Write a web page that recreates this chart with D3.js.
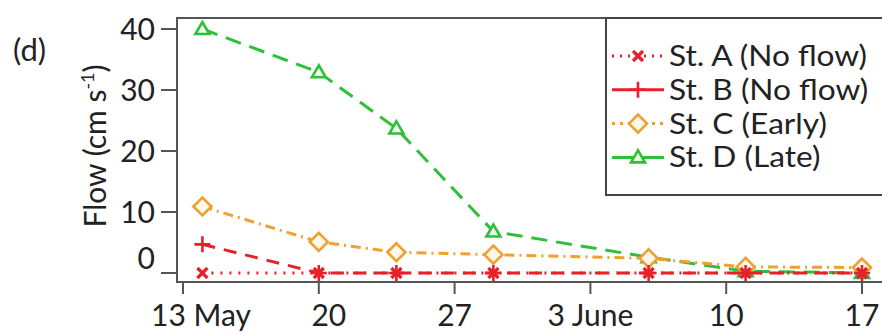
<!DOCTYPE html>
<html><head><meta charset="utf-8">
<script src="https://cdn.jsdelivr.net/npm/d3@7"></script>
<style>body{margin:0;background:#fff}svg{display:block}text{font-family:Lato,"Open Sans",sans-serif;fill:#222}</style>
</head><body><svg id="c" width="882" height="335"></svg>
<script>
const dates = ["2015-05-14","2015-05-20","2015-05-24","2015-05-29","2015-06-06","2015-06-11","2015-06-17"];
const stA = [0,0,0,0,0,0,0];
const stB = [4.7,0,0,0,0,0,0];
const stC = [10.9,5.1,3.4,3.0,2.4,1.0,0.9];
const stD = [40,32.9,23.7,6.8,2.6,0.3,0];
const seriesNames = ["St. A (No flow)","St. B (No flow)","St. C (Early)","St. D (Late)"];
const xTickDates = ["2015-05-13","2015-05-20","2015-05-27","2015-06-03","2015-06-10","2015-06-17"];
const xTickLabels = ["13 May","20","27","3 June","10","17"];
const yTicks = [0,10,20,30,40];

const parse = d3.timeParse("%Y-%m-%d");
const svg = d3.select("#c");
const x = d3.scaleTime().domain([parse("2015-05-13"), parse("2015-06-17")]).range([183, 862]);
const y = d3.scaleLinear().domain([0, 40]).range([273, 29]);

const styles = [
  {vals: stA, color:"#e8202a", dash:"2,7", legDash:"2,6", marker:"x"},
  {vals: stB, color:"#e8202a", dash:"13,9", legDash:null, marker:"plus"},
  {vals: stC, color:"#f0a030", dash:"10,5,2,5", legDash:"3,5", marker:"diamond"},
  {vals: stD, color:"#2fbf3a", dash:"16,9", legDash:null, marker:"triangle"}
];

function drawMarker(g, type, color){
  if(type==="x"){
    g.append("path").attr("d","M-5,-5L5,5M-5,5L5,-5").attr("stroke",color).attr("stroke-width",3.2).attr("fill","none");
  } else if(type==="plus"){
    g.append("path").attr("d","M-8,0L8,0M0,-8L0,8").attr("stroke",color).attr("stroke-width",2.6).attr("fill","none");
  } else if(type==="diamond"){
    g.append("path").attr("d","M-9,0L0,-9L9,0L0,9Z").attr("stroke",color).attr("stroke-width",2.6).attr("fill","#fff8ea");
  } else {
    g.append("path").attr("d","M-7,5L0,-7L7,5Z").attr("stroke",color).attr("stroke-width",2.6).attr("fill","#eefbea");
  }
}

// frame
svg.append("rect").attr("x",177).attr("y",18).attr("width",760).attr("height",264)
  .attr("fill","none").attr("stroke","#555").attr("stroke-width",2);

// y ticks
const yAxis = svg.append("g");
yTicks.forEach(t=>{
  yAxis.append("line").attr("x1",161).attr("x2",177).attr("y1",y(t)).attr("y2",y(t)).attr("stroke","#555").attr("stroke-width",2);
  yAxis.append("text").attr("x",155).attr("y",y(t) + (t===0?-15:0)).attr("dy","0.36em")
    .attr("text-anchor","end").attr("font-size",30).text(t);
});
// x ticks
const xAxis = svg.append("g");
xTickDates.forEach((d,i)=>{
  const px = x(parse(d));
  xAxis.append("line").attr("x1",px).attr("x2",px).attr("y1",282).attr("y2",294).attr("stroke","#555").attr("stroke-width",2);
  xAxis.append("text").attr("x",px + (i===0?18:(i===1?10:0))).attr("y",326).attr("text-anchor","middle").attr("font-size",30).text(xTickLabels[i]);
});

// y label
const yl = svg.append("text").attr("transform","translate(106,146) rotate(-90)").attr("text-anchor","middle").attr("font-size",30);
yl.append("tspan").text("Flow (cm s");
yl.append("tspan").attr("font-size",18).attr("dy",-12).text("-1");
yl.append("tspan").attr("dy",12).text(")");

svg.append("text").attr("x",13).attr("y",61).attr("font-size",31).text("(d)");

// series
const line = d3.line().x((d,i)=>x(parse(dates[i]))).y(d=>y(d));
[3,2,1,0].forEach(k=>{
  const s = styles[k];
  svg.append("path").attr("d",line(s.vals)).attr("fill","none").attr("stroke",s.color)
    .attr("stroke-width",3).attr("stroke-dasharray",s.dash);
  s.vals.forEach((v,i)=>{
    const g = svg.append("g").attr("transform",`translate(${x(parse(dates[i]))},${y(v)})`);
    drawMarker(g, s.marker, s.color);
  });
});

// legend
svg.append("rect").attr("x",606).attr("y",18).attr("width",300).attr("height",177)
  .attr("fill","#fff").attr("stroke","#444").attr("stroke-width",2);
seriesNames.forEach((n,i)=>{
  const yy = 56 + i*33.8;
  const s = styles[i];
  svg.append("line").attr("x1",612).attr("x2",664).attr("y1",yy).attr("y2",yy)
    .attr("stroke",s.color).attr("stroke-width",3).attr("stroke-dasharray",s.legDash);
  const g = svg.append("g").attr("transform",`translate(638,${yy})`);
  drawMarker(g, s.marker, s.color);
  const t = svg.append("text").attr("x",669).attr("y",yy).attr("dy","0.36em").attr("font-size",28).text(n);
  const w = t.node().getComputedTextLength();
  t.attr("textLength", w*1.13).attr("lengthAdjust","spacingAndGlyphs");
});
</script></body></html>
